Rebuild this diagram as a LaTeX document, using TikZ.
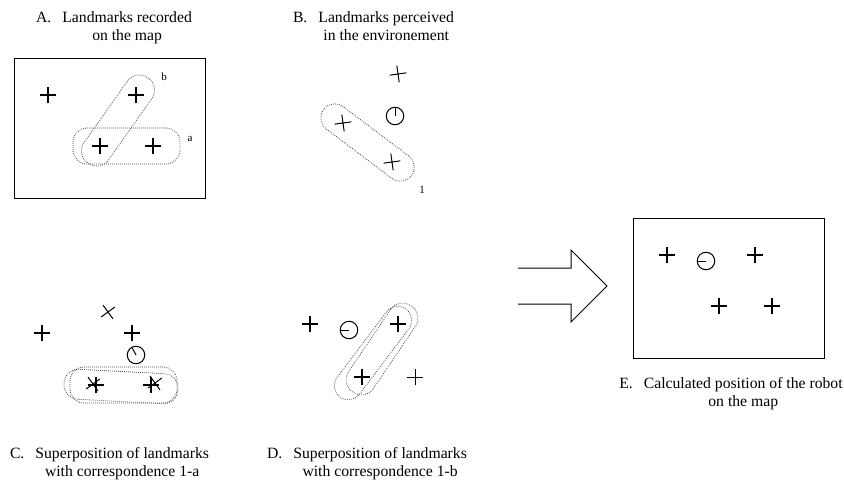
\documentclass[tikz,border=0pt]{standalone}
\usepackage{fontspec}
\setmainfont{Liberation Serif}
\usetikzlibrary{positioning}
\usetikzlibrary{shapes.misc}
\usetikzlibrary{calc}
\tikzstyle{mapmark}=[cross out,draw,minimum size=12pt,inner sep=0pt,outer sep=0pt,rotate=45,line width=1.5pt]
\tikzstyle{boldmark}=[mapmark,line width=2pt]
\tikzstyle{seenmark}=[mapmark,line width=1pt]
\tikzstyle{xmark}=[cross out,draw,minimum size=12pt,inner sep=0pt,outer sep=0pt,line width=1pt]
\tikzstyle{robot}=[circle,draw,minimum size=17.5pt,inner sep=0pt,line width=1pt]
\tikzstyle{heading}=[draw,line width=1pt]
\tikzstyle{cluster}=[draw=black!70,dash pattern=on 0.8pt off 1.2pt,line width=0.8pt,rounded corners=14pt,inner sep=0pt]
\tikzstyle{frame}=[draw,line width=1pt]
\tikzstyle{caption}=[font=\fontsize{15.7}{18}\selectfont,inner sep=0pt]
\tikzstyle{tag}=[font=\fontsize{11}{12}\selectfont,inner sep=0pt]
\newcommand{\panelcap}[3]{\begin{tabular}{@{}l@{\hspace{11pt}}c@{}}#1 & #2\\ & #3\end{tabular}}

\begin{document}
\begin{tikzpicture}[x=1pt,y=-1pt]
\useasboundingbox (0,0) rectangle (844,480);

% A: landmarks on the map
\node[frame,minimum width=191pt,minimum height=140pt] (mapA) at (109.5,128) {};
\foreach \pos/\name in {{(48,95)/a1}, {(136,95)/a2}, {(100,146)/a3}, {(153,146)/a4}}
    \node[mapmark] (\name) at \pos {};
\node[cluster,minimum width=107pt,minimum height=36pt] (grpa) at ($(a3)!0.5!(a4)$) {};
\node[cluster,minimum width=104pt,minimum height=30pt,rotate=54.8] (grpb) at ($(a2)!0.5!(a3)$) {};
\node[tag] (taga) at (190,139) {a};
\node[tag] (tagb) at (164,77) {b};

% B: landmarks perceived
\foreach \pos/\name in {{(398,74)/b1}, {(343,123)/b2}, {(392,162)/b3}}
    \node[seenmark,rotate=8] (\name) at \pos {};
\node[robot] (robB) at (395,116) {};
\draw[heading] (robB.center) -- (robB.90);
\node[cluster,minimum width=110pt,minimum height=28pt,rotate=-37] (grp1) at ($(b2)!0.5!(b3)$) {};
\node[tag] (tag1) at (422,190) {1};

% C: correspondence 1-a
\foreach \pos/\name in {{(42,333)/c2}, {(132,333)/c3}, {(96,385)/c4}, {(151,385)/c5}}
    \node[boldmark] (\name) at \pos {};
\foreach \pos/\name in {{(108,312)/c1}, {(93,384)/c6}, {(155,383)/c7}}
    \node[xmark,rotate=-9] (\name) at \pos {};
\node[robot] (robC) at (136,355) {};
\draw[heading] (robC.center) -- (robC.118);
\node[cluster,minimum width=107pt,minimum height=36pt] (grpCa) at ($(c4)!0.5!(c5)$) {};
\node[cluster,minimum width=114pt,minimum height=30pt,rotate=-3] (grpC1) at ($(c6)!0.5!(c7)+(-3,3)$) {};

% D: correspondence 1-b
\foreach \pos/\name in {{(310,324)/d1}, {(398,324)/d2}, {(362,377)/d3}}
    \node[boldmark] (\name) at \pos {};
\node[seenmark,rotate=0] (d4) at (415,377) {};
\node[robot] (robD) at (349,330) {};
\draw[heading] (robD.center) -- (robD.180);
\node[cluster,minimum width=104pt,minimum height=30pt,rotate=56] (grpDb) at ($(d2)!0.5!(d3)+(2,-1.5)$) {};
\node[cluster,minimum width=110pt,minimum height=28pt,rotate=53] (grpD1) at ($(d2)!0.5!(d3)+(-7,2.5)$) {};

% E: robot on the map
\node[frame,minimum width=191pt,minimum height=140pt] (mapE) at (728.5,288) {};
\foreach \pos/\name in {{(667,255)/e1}, {(755,255)/e2}, {(719,306)/e3}, {(772,306)/e4}}
    \node[mapmark,line width=1.2pt] (\name) at \pos {};
\node[robot] (robE) at (706,261) {};
\draw[heading] (robE.center) -- (robE.180);

% big arrow
\draw[frame] (518,268) -- (571,268) -- (571,250) -- (607,286) -- (571,322) -- (571,304) -- (518,304);

% captions
\node[caption] (capA) at (114,27.5) {\panelcap{A.}{Landmarks recorded}{on the map}};
\node[caption] (capB) at (373.5,28) {\panelcap{B.}{Landmarks perceived}{in the environement}};
\node[caption] (capC) at (109.5,463.5) {\panelcap{C.}{Superposition of landmarks}{with correspondence 1-a}};
\node[caption] (capD) at (367,463.5) {\panelcap{D.}{Superposition of landmarks}{with correspondence 1-b}};
\node[caption] (capE) at (731,393.5) {\panelcap{E.}{Calculated position of the robot}{on the map}};
\end{tikzpicture}
\end{document}
